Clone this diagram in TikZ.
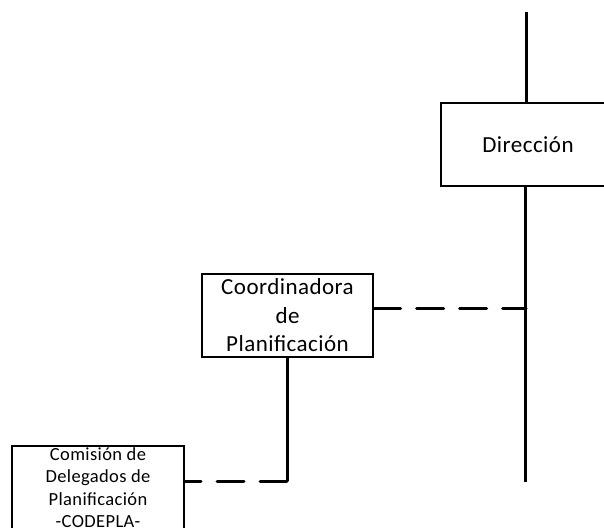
\documentclass[tikz,border=0pt]{standalone}
\usepackage{fontspec}
\setmainfont{Carlito}[LetterSpace=2]
\begin{document}
\begin{tikzpicture}[x=1pt,y=1pt,
  orgbox/.style={draw=black,line width=1.4pt,fill=white,inner sep=0pt,align=center},
  solidline/.style={line width=3pt},
  dashline/.style={line width=3pt,dash pattern=on 27pt off 16pt,line cap=round}]
\useasboundingbox (0,0) rectangle (604,527);
\clip (0,0) rectangle (604,527);
% Direccion
\node[orgbox,minimum width=174pt,minimum height=83pt,font=\fontsize{23}{28}\selectfont] (dir) at (528,382.5) {Dirección};
\coordinate (top) at (526.5,515);
\coordinate (bot) at (525.5,45);
\draw[solidline] (top) -- (dir.north -| top);
\draw[solidline] (dir.south -| bot) -- (bot);
% Coordinadora
\node[orgbox,minimum width=171pt,minimum height=83pt,font=\fontsize{23}{28.5}\selectfont] (coord) at (287.5,211.5) {Coordinadora\\de\\Planificación};
\coordinate (cj) at (526,218);
\draw[dashline] (coord.east |- cj) -- (cj);
% Comision
\node[orgbox,minimum width=172pt,minimum height=83pt,font=\fontsize{18.5}{22.5}\selectfont] (com) at (98,39.5) {Comisión de\\Delegados de\\Planificación\\-CODEPLA-};
\coordinate (corner) at (287,46);
\draw[solidline] (coord.south -| corner) -- (corner);
\draw[dashline] (corner) -- (com.east |- corner);
\end{tikzpicture}
\end{document}
